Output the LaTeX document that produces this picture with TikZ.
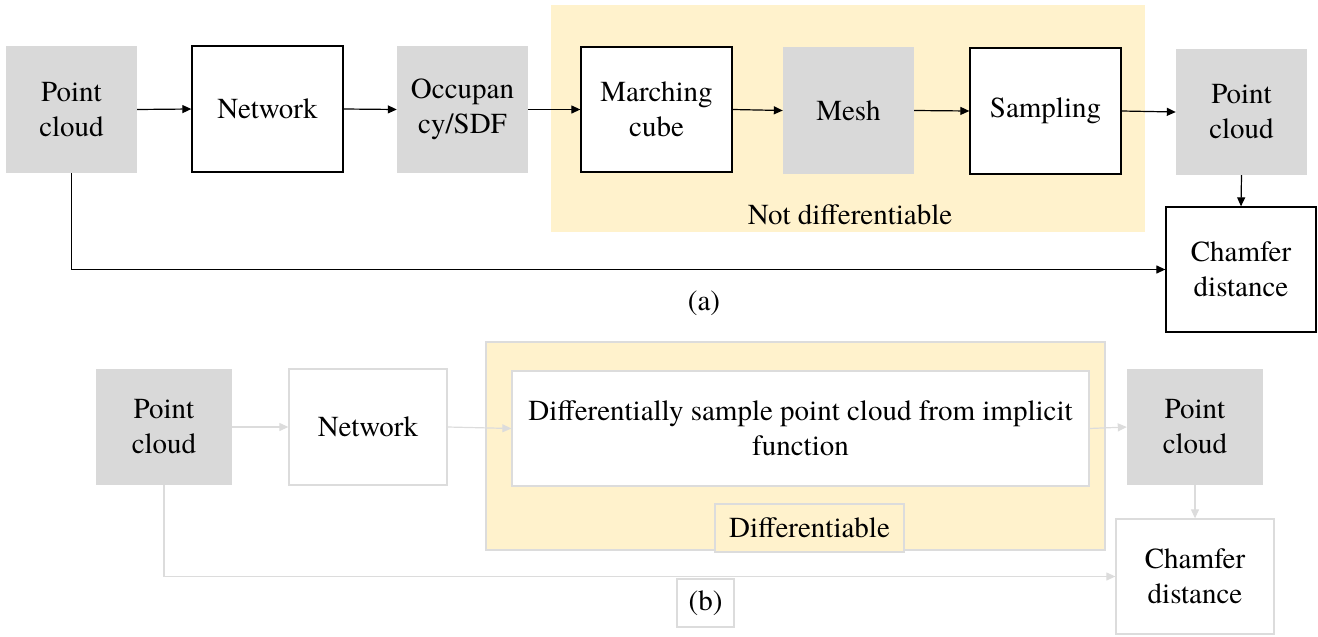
\documentclass[tikz,border=0pt]{standalone}
\usepackage{fontspec}
\setmainfont{texgyretermes}[Extension=.otf, UprightFont=*-regular, BoldFont=*-bold, ItalicFont=*-italic, BoldItalicFont=*-bolditalic]
\usetikzlibrary{arrows.meta}
\definecolor{boxgray}{HTML}{D9D9D9}
\definecolor{paleyellow}{HTML}{FFF2CC}
\definecolor{lightline}{HTML}{DCDCDC}
\begin{document}
\begin{tikzpicture}[x=1pt,y=-1pt,
  every node/.style={font=\rmfamily\fontsize{29}{35}\selectfont, align=center, inner sep=0pt},
  graybox/.style={fill=boxgray, draw=none},
  blackbox/.style={fill=white, draw=black, line width=1.3pt},
  lightbox/.style={fill=white, draw=lightline, line width=1.3pt},
  darrow/.style={draw=black, line width=1.2pt, -{Triangle[length=9pt,width=8pt]}},
  larrow/.style={draw=lightline, line width=1.2pt, -{Triangle[length=9pt,width=8pt]}},
  region/.style={fill=paleyellow, draw=none}
]
\useasboundingbox (0,0) rectangle (1318,637);
% ---------- (a) ----------
\node[region, minimum width=594, minimum height=227] (nd) at (848,118.5) {};
\node[graybox, minimum width=131, minimum height=127] (pc1) at (71.5,109.5) {Point\\cloud};
\node[blackbox, minimum width=151, minimum height=126] (net1) at (267.5,109) {Network};
\node[graybox, minimum width=131, minimum height=127] (occ) at (462.5,109.5) {Occupan\\cy/SDF};
\node[blackbox, minimum width=151, minimum height=125] (mc) at (656.5,109.5) {Marching\\cube};
\node[graybox, minimum width=131, minimum height=127] (mesh) at (848.5,110.5) {Mesh};
\node[blackbox, minimum width=151, minimum height=126] (samp) at (1045.5,111) {Sampling};
\node[graybox, minimum width=131, minimum height=126] (pc2) at (1241.5,112) {Point\\cloud};
\node[blackbox, minimum width=150, minimum height=125] (cham1) at (1241,269.5) {Chamfer\\distance};
\node (ndlabel) at (850,215) {Not differentiable};
\node (alabel) at (704,303) {(a)};
\draw[darrow] (pc1.east) -- (net1.west);
\draw[darrow] (net1.east) -- (occ.west);
\draw[darrow] (occ.east) -- (mc.west);
\draw[darrow] (mc.east) -- (mesh.west);
\draw[darrow] (mesh.east) -- (samp.west);
\draw[darrow] (samp.east) -- (pc2.west);
\draw[darrow] (pc2.south) -- (cham1.north);
\draw[darrow] (pc1.south) |- (cham1.west);
% ---------- (b) ----------
\node[region, draw=lightline, line width=1.3pt, minimum width=619, minimum height=208] (dr) at (795.5,446) {};
\node[graybox, minimum width=136, minimum height=116] (pcb1) at (164,427) {Point\\cloud};
\node[lightbox, minimum width=158, minimum height=116] (netb) at (368,427) {Network};
\node[lightbox, minimum width=577, minimum height=115] (diff) at (800.5,428.5) {Differentially sample point cloud from implicit\\function};
\node[region, draw=lightline, line width=1.3pt, minimum width=189, minimum height=48] (dlabel) at (809.5,528) {Differentiable};
\node[graybox, minimum width=136, minimum height=116] (pcb2) at (1195,427) {Point\\cloud};
\node[lightbox, minimum width=158, minimum height=115] (chamb) at (1195,576.5) {Chamfer\\distance};
\node[lightbox, minimum width=57, minimum height=48] (blabel) at (705.5,603) {(b)};
\draw[larrow] (pcb1.east) -- (netb.west);
\draw[larrow] (netb.east) -- (diff.west);
\draw[larrow] (diff.east) -- (pcb2.west);
\draw[larrow] (pcb2.south) -- (chamb.north);
\draw[larrow] (pcb1.south) |- (chamb.west);
\end{tikzpicture}
\end{document}
